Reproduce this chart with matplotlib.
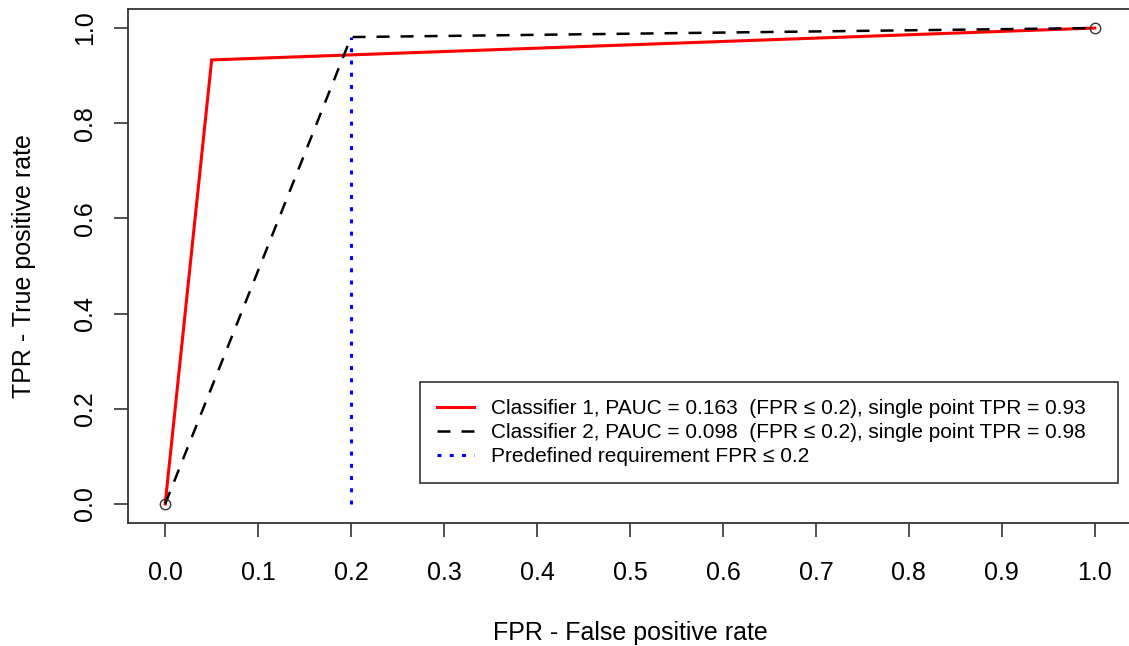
import matplotlib
matplotlib.use('Agg')
import matplotlib.pyplot as plt

plt.rcParams['font.family'] = ['Liberation Sans', 'DejaVu Sans']

# ROC points
fpr1 = [0.0, 0.05, 1.0]
tpr1 = [0.0, 0.933, 1.0]
fpr2 = [0.0, 0.2, 1.0]
tpr2 = [0.0, 0.981, 1.0]
fpr_req = 0.2
xticks = [0.0, 0.1, 0.2, 0.3, 0.4, 0.5, 0.6, 0.7, 0.8, 0.9, 1.0]
yticks = [0.0, 0.2, 0.4, 0.6, 0.8, 1.0]
labels = ['Classifier 1, PAUC = 0.163  (FPR \u2264 0.2), single point TPR = 0.93',
          'Classifier 2, PAUC = 0.098  (FPR \u2264 0.2), single point TPR = 0.98',
          'Predefined requirement FPR \u2264 0.2']

W, H = 1129, 646
fig = plt.figure(figsize=(W / 100, H / 100), dpi=100)
# axes box in pixels: left 128, right 1132, top 9, bottom 523
ax = fig.add_axes([128 / W, 1 - 523 / H, (1132 - 128) / W, (523 - 9) / H])

ax.plot(fpr1, tpr1, color='red', lw=2.2, solid_joinstyle='miter', label=labels[0])
ax.plot(fpr2, tpr2, color='black', lw=1.8, dashes=(5.2, 4.4), dash_capstyle='butt',
        label=labels[1])
ax.plot([fpr_req, fpr_req], [0, tpr2[1]], color='blue', lw=2.2, dashes=(1.3, 2.7),
        dash_capstyle='butt', label=labels[2])
ax.plot([0, 1], [0, 1], ls='none', marker='o', mfc='none', mec='#333333', ms=7.5, mew=1)

ax.set_xlim(-0.04, 1.04)
ax.set_ylim(-0.04, 1.04)
ax.set_xticks(xticks)
ax.set_xticklabels(['%.1f' % v for v in xticks])
ax.set_yticks(yticks)
ax.set_yticklabels(['%.1f' % v for v in yticks], rotation=90, va='center')
ax.tick_params(axis='both', direction='out', length=10, width=1.2, color='#333333',
               labelsize=18, labelcolor='black')
ax.tick_params(axis='x', pad=17)
ax.tick_params(axis='y', pad=12)
for s in ax.spines.values():
    s.set_color('#333333')
    s.set_linewidth(1.3)

ax.set_xlabel('FPR - False positive rate', fontsize=18, labelpad=26)
ax.set_ylabel('TPR - True positive rate', fontsize=18, labelpad=27)

# legend box in pixels: x 420..1118, y 383..483
aw, ah = 1132 - 128, 523 - 9
leg = ax.legend(loc='lower left', mode='expand',
                bbox_to_anchor=((420 - 128) / aw, (523 - 483) / ah, (1118 - 420) / aw, 0.1),
                fontsize=15, frameon=True, fancybox=False, edgecolor='black',
                handlelength=1.8, borderpad=0.8, labelspacing=0.25, handletextpad=0.8,
                borderaxespad=0)
leg.get_frame().set_linewidth(1.2)

fig.savefig('out.png', dpi=100)
